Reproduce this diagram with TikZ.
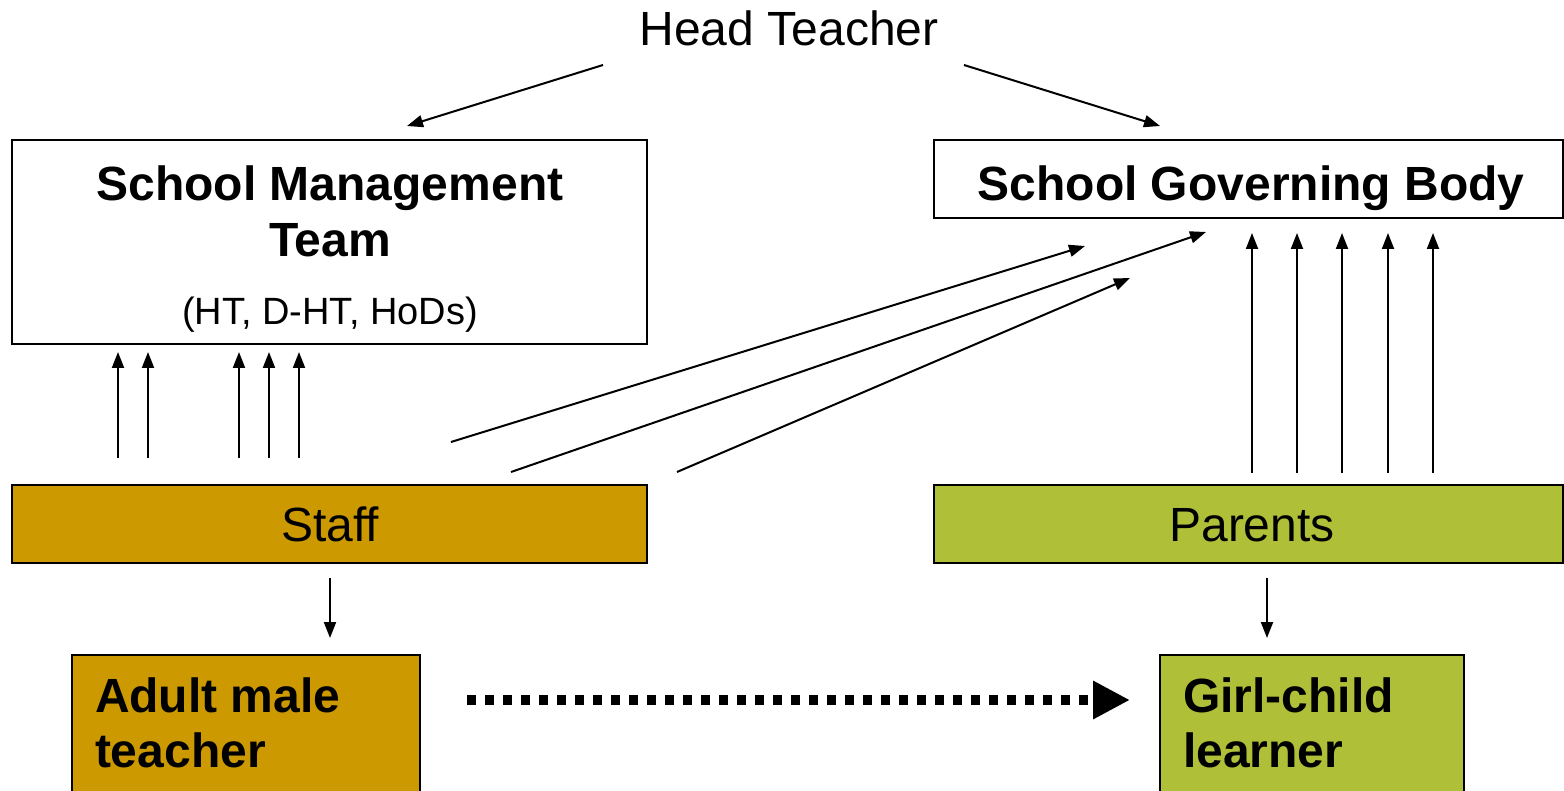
\documentclass[tikz,border=0pt]{standalone}
\usepackage{fontspec}
\setmainfont{Liberation Sans}
\usetikzlibrary{arrows.meta}
\definecolor{staffcol}{RGB}{204,153,0}
\definecolor{parcol}{RGB}{176,191,56}
\begin{document}
\begin{tikzpicture}[x=0.5pt,y=-0.5pt,
  box/.style={draw=black,line width=1pt,rectangle,inner sep=0pt,outer sep=0pt,anchor=north west},
  txt/.style={inner sep=0pt,outer sep=0pt,anchor=base},
  ltxt/.style={inner sep=0pt,outer sep=0pt,anchor=base west},
  big/.style={font=\fontsize{24}{28}\selectfont},
  bigb/.style={font=\fontsize{24}{28}\selectfont\bfseries},
  small/.style={font=\fontsize{19}{22}\selectfont},
  arr/.style={line width=1pt,-{Triangle[width=6pt,length=8pt]}},
  dotarr/.style={line width=4.8pt,dash pattern=on 4.6pt off 4.4pt,-{Triangle[width=18pt,length=18.5pt]}}]
\clip (0,0) rectangle (1564,791);
\fill[white] (0,0) rectangle (1564,791);
% boxes
\node[box,minimum width=317.5pt,minimum height=102pt] (smt) at (12,140) {};
\node[box,minimum width=314.5pt,minimum height=39pt] (sgb) at (934,140) {};
\node[box,fill=staffcol,minimum width=317.5pt,minimum height=39pt] (staff) at (12,485) {};
\node[box,fill=parcol,minimum width=314.5pt,minimum height=39pt] (par) at (934,485) {};
\node[box,fill=staffcol,minimum width=174pt,minimum height=72.5pt] (adult) at (72,655) {};
\node[box,fill=parcol,minimum width=152pt,minimum height=72.5pt] (girl) at (1160,655) {};
% texts
\node[txt,big] (head) at (789,46) {Head Teacher};
\node[txt,bigb] (smtA) at (330,201) {School Management};
\node[txt,bigb] (smtB) at (330,257) {Team};
\node[txt,small] (smtC) at (330,325) {(HT, D-HT, HoDs)};
\node[txt,bigb] (sgbT) at (1251,201) {School Governing Body};
\node[txt,big] (staffT) at (330,541) {Staff};
\node[txt,big] (parT) at (1252,541) {Parents};
\node[ltxt,bigb] (adultA) at (95,712) {Adult male};
\node[ltxt,bigb] (adultB) at (95,767) {teacher};
\node[ltxt,bigb] (girlA) at (1183,712) {Girl-child};
\node[ltxt,bigb] (girlB) at (1183,767) {learner};
% head teacher arrows
\coordinate (h1s) at (603,65); \coordinate (h1e) at (407,126);
\coordinate (h2s) at (964,65); \coordinate (h2e) at (1160,126);
\draw[arr] (h1s) -- (h1e);
\draw[arr] (h2s) -- (h2e);
% staff -> SMT
\foreach \x [count=\i] in {118,148,239,269,299} {
  \coordinate (su\i) at (\x,458); \coordinate (st\i) at (\x,352);
  \draw[arr] (su\i) -- (st\i);
}
% parents -> SGB
\foreach \x [count=\i] in {1252,1297,1342,1388,1433} {
  \coordinate (pu\i) at (\x,473); \coordinate (pt\i) at (\x,233);
  \draw[arr] (pu\i) -- (pt\i);
}
% staff -> SGB diagonals
\coordinate (d1s) at (451,442); \coordinate (d1e) at (1085,246);
\coordinate (d2s) at (511,472); \coordinate (d2e) at (1206,232);
\coordinate (d3s) at (677,472); \coordinate (d3e) at (1130,278);
\draw[arr] (d1s) -- (d1e);
\draw[arr] (d2s) -- (d2e);
\draw[arr] (d3s) -- (d3e);
% down arrows
\coordinate (sd1) at (330,578); \coordinate (sd2) at (330,638);
\coordinate (pd1) at (1267,578); \coordinate (pd2) at (1267,638);
\draw[arr] (sd1) -- (sd2);
\draw[arr] (pd1) -- (pd2);
% dotted arrow
\coordinate (ds) at (467,700); \coordinate (de) at (1130,700);
\draw[dotarr] (ds) -- (de);
\end{tikzpicture}
\end{document}
